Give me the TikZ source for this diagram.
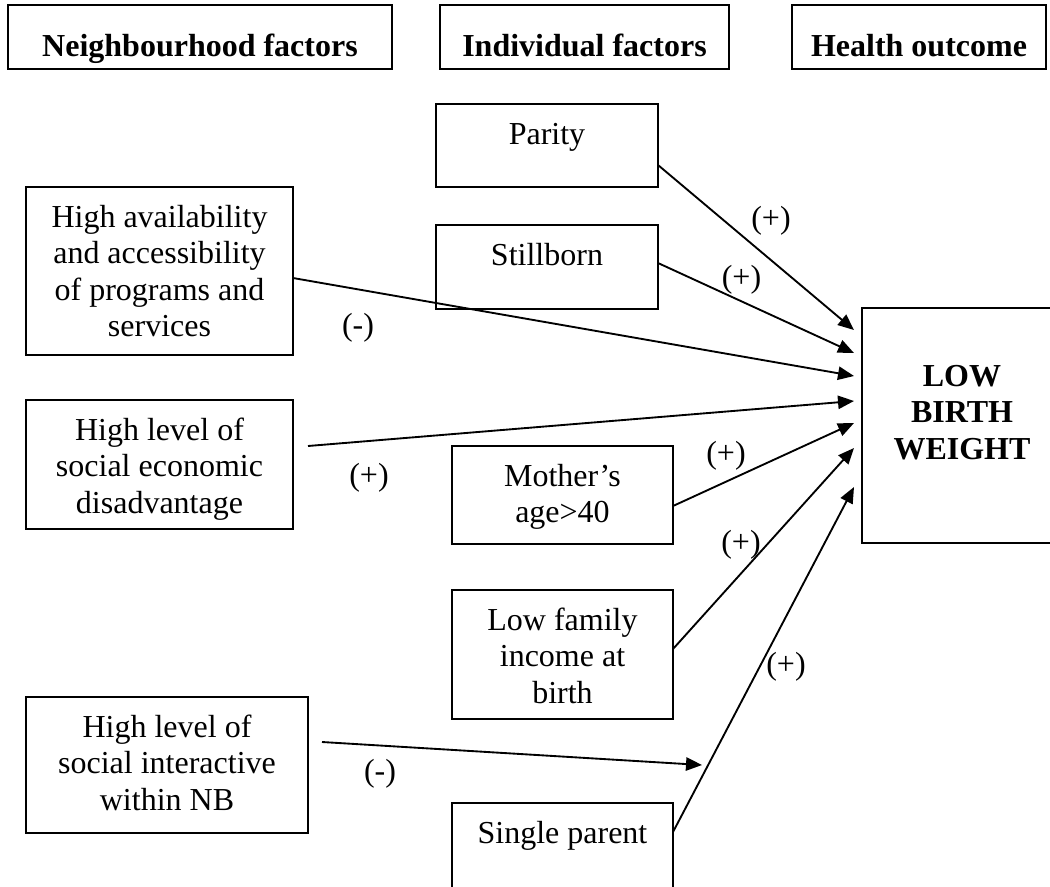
\documentclass[tikz,border=0pt]{standalone}
\usepackage{fontspec}
\setmainfont{Liberation Serif}
\usetikzlibrary{arrows.meta,calc}

% Fixed-size box content: width, height, first baseline (all in px), text
\newcommand\boxcontent[4]{%
  \parbox[c][\dimexpr #2pt*3/4\relax][t]{\dimexpr #1pt*3/4\relax}{%
    \centering\rule{0pt}{\dimexpr #3pt*3/4\relax}#4}}

\tikzset{
  box/.style={draw, line width=1.3pt, inner sep=0pt, outer sep=0pt,
    anchor=north west, font=\fontsize{24}{27.4}\selectfont},
  header/.style={box, line width=1.7pt, font=\fontsize{24}{27.4}\selectfont\bfseries},
  outcome/.style={box, font=\fontsize{24}{27.4}\selectfont\bfseries},
  link/.style={line width=1.4pt},
  arrowlink/.style={link, -{Triangle[length=12pt,width=10pt]}},
  sign/.style={inner sep=0pt, font=\fontsize{24}{27.4}\selectfont}
}

\begin{document}
\begin{tikzpicture}[x=0.75pt,y=-0.75pt]
\useasboundingbox (0,0) rectangle (1050,886);
\clip (0,0) rectangle (1050,886);

% column headers
\node[header] (hn) at (8,5)   {\boxcontent{384}{64}{51}{Neighbourhood factors}};
\node[header] (hi) at (440,5) {\boxcontent{289}{64}{51}{Individual factors}};
\node[header] (ho) at (792,5) {\boxcontent{254}{64}{51}{Health outcome}};

% individual factors
\node[box] (parity) at (436,104) {\boxcontent{222}{83}{40}{Parity}};
\node[box] (still)  at (436,225) {\boxcontent{222}{84}{40}{Stillborn}};
\node[box] (mother) at (452,446) {\boxcontent{221}{98}{40}{Mother's\\age>40}};
\node[box] (lowinc) at (452,590) {\boxcontent{221}{129}{40}{Low family\\income at\\birth}};
\node[box] (single) at (452,803) {\boxcontent{221}{130}{40}{Single parent}};

% neighbourhood factors
\node[box] (avail) at (26,187) {\boxcontent{267}{168}{40}{High availability\\and accessibility\\of programs and\\services}};
\node[box] (socec) at (26,400) {\boxcontent{267}{129}{40}{High level of\\social economic\\disadvantage}};
\node[box] (socint) at (26,697) {\boxcontent{282}{136}{40}{High level of\\social interactive\\within NB}};

% health outcome
\node[outcome] (lbw) at (862,308) {\boxcontent{200}{235}{78}{LOW\\BIRTH\\WEIGHT}};

% paths into the outcome
\draw[arrowlink] ($(parity.north east)+(0,61)$) -- ($(lbw.north west)+(-8,22)$);
\draw[arrowlink] ($(still.north east)+(0,38)$)  -- ($(lbw.north west)+(-8,45)$);
\draw[arrowlink] ($(avail.north east)+(0,91)$)  -- ($(lbw.north west)+(-8,68)$);
\draw[arrowlink] ($(socec.north east)+(15,46)$) -- ($(lbw.north west)+(-8,93)$);
\draw[arrowlink] ($(mother.north east)+(0,60)$) -- ($(lbw.north west)+(-8,115)$);
\draw[arrowlink] ($(lowinc.north east)+(0,59)$) -- ($(lbw.north west)+(-8,140)$);
\draw[arrowlink] ($(single.north east)+(0,29)$) -- ($(lbw.north west)+(-8,179)$);

% social interaction acting on the single-parent path
\coordinate (meet) at (702,765);
\draw[arrowlink] ($(socint.north east)+(14,45)$) -- (meet);

% signs of the effects
\node[sign] (sparity) at (771,220.5) {(+)};
\node[sign] (sstill)  at (741.5,280) {(+)};
\node[sign] (savail)  at (358,327.5) {(-)};
\node[sign] (ssocec)  at (369,477.5) {(+)};
\node[sign] (smother) at (726,456)   {(+)};
\node[sign] (slowinc) at (741,545)   {(+)};
\node[sign] (ssingle) at (786,667)   {(+)};
\node[sign] (ssocint) at (380,774)   {(-)};
\end{tikzpicture}
\end{document}
